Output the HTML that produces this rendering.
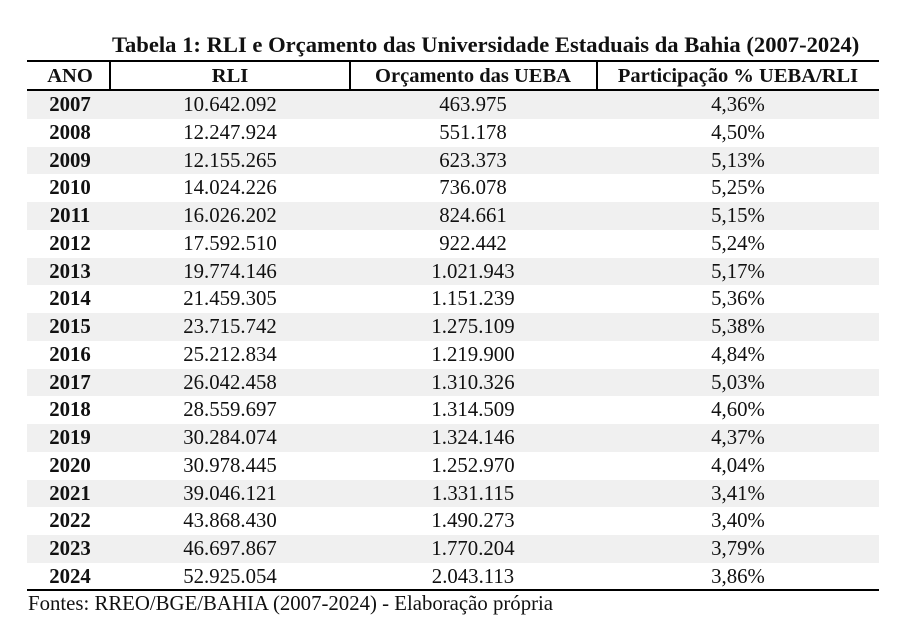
<!DOCTYPE html>
<html><head><meta charset="utf-8"><style>
body{margin:0;width:897px;height:626px;background:#fff;position:relative;font-family:"Liberation Serif",serif;color:#111;overflow:hidden}
.t{position:absolute;white-space:nowrap}
.title{left:112px;top:32px;font-size:22.6px;font-weight:bold;line-height:26px}
.hr{position:absolute;left:27px;width:852px;background:#000}
.vr{position:absolute;top:62px;height:28px;width:2px;background:#000}
.row{position:absolute;left:27px;width:852px;height:27.8px;font-size:20.8px;line-height:24px}
.row.g{background:#f0f0f0}
.row span{position:absolute;top:2px;transform:translateX(-50%);white-space:nowrap}
.h span{font-weight:bold;font-size:20.5px}
.foot{left:28px;top:592px;font-size:20.8px;line-height:24px}
</style></head><body>
<div class="t title">Tabela 1: RLI e Orçamento das Universidade Estaduais da Bahia (2007-2024)</div>
<div class="hr" style="top:60px;height:2px"></div>
<div class="hr" style="top:89px;height:2px"></div>
<div class="hr" style="top:589px;height:2px"></div>
<div class="vr" style="left:109px"></div>
<div class="vr" style="left:349px"></div>
<div class="vr" style="left:596px"></div>
<div class="row h" style="top:62px"><span style="left:43px">ANO</span><span style="left:203px">RLI</span><span style="left:446px">Orçamento das UEBA</span><span style="left:711px">Participação % UEBA/RLI</span></div>
<div id="rows"></div>
<div class="t foot">Fontes: RREO/BGE/BAHIA (2007-2024) - Elaboração própria</div>
<script>
var d=[["2007","10.642.092","463.975","4,36%"],["2008","12.247.924","551.178","4,50%"],["2009","12.155.265","623.373","5,13%"],["2010","14.024.226","736.078","5,25%"],["2011","16.026.202","824.661","5,15%"],["2012","17.592.510","922.442","5,24%"],["2013","19.774.146","1.021.943","5,17%"],["2014","21.459.305","1.151.239","5,36%"],["2015","23.715.742","1.275.109","5,38%"],["2016","25.212.834","1.219.900","4,84%"],["2017","26.042.458","1.310.326","5,03%"],["2018","28.559.697","1.314.509","4,60%"],["2019","30.284.074","1.324.146","4,37%"],["2020","30.978.445","1.252.970","4,04%"],["2021","39.046.121","1.331.115","3,41%"],["2022","43.868.430","1.490.273","3,40%"],["2023","46.697.867","1.770.204","3,79%"],["2024","52.925.054","2.043.113","3,86%"]];
var h="";for(var i=0;i<d.length;i++){var r=d[i];h+='<div class="row'+(i%2==0?' g':'')+'" style="top:'+(91+i*27.75)+'px"><span style="left:43px;font-weight:bold">'+r[0]+'</span><span style="left:203px">'+r[1]+'</span><span style="left:446px">'+r[2]+'</span><span style="left:711px">'+r[3]+'</span></div>';}
document.getElementById("rows").outerHTML=h;
</script>
</body></html>
